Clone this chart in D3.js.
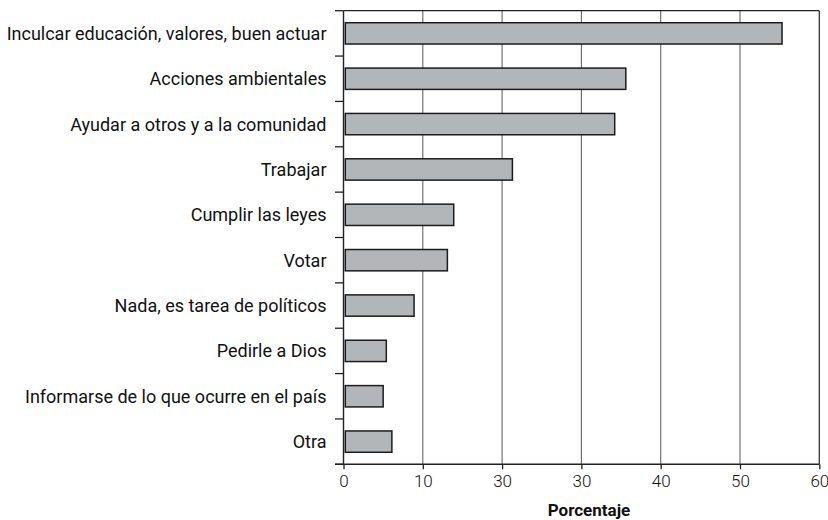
<!DOCTYPE html>
<html><head><meta charset="utf-8">
<script src="https://cdn.jsdelivr.net/npm/d3@7"></script>
<style>
html,body{margin:0;padding:0;background:#fff;}
svg{display:block;}
</style></head>
<body>
<svg id="chart" width="828" height="520"></svg>
<script>
const categories = [
  "Inculcar educación, valores, buen actuar",
  "Acciones ambientales",
  "Ayudar a otros y a la comunidad",
  "Trabajar",
  "Cumplir las leyes",
  "Votar",
  "Nada, es tarea de políticos",
  "Pedirle a Dios",
  "Informarse de lo que ocurre en el país",
  "Otra"
];
const values = [55.3, 35.6, 34.2, 21.3, 13.9, 13.1, 8.9, 5.4, 5.0, 6.1];
const tickValues = [0, 10, 20, 30, 40, 50, 60];
const tickLabels = ["0", "10", "30", "30", "40", "50", "60"];
const xTitle = "Porcentaje";

(function () {
const svg = d3.select("#chart");
const mLeft = 343.5, mRight = 819.3, mTop = 10.7, mBottom = 464.3;
const font = "Roboto, 'Noto Sans', sans-serif";

const x = d3.scaleLinear().domain([0, 60]).range([mLeft, mRight]);
const pad = 0.53;
const y = d3.scaleBand().domain(categories).range([mTop, mBottom])
  .paddingInner(pad).paddingOuter(pad / 2);
const step = y.step();

// gridlines
svg.append("g").selectAll("line").data(tickValues.filter(v => v > 0 && v < 60)).join("line")
  .attr("x1", d => x(d)).attr("x2", d => x(d))
  .attr("y1", mTop).attr("y2", mBottom)
  .attr("stroke", "#666").attr("stroke-width", 1.1);

// bars
svg.append("g").selectAll("rect").data(values).join("rect")
  .attr("x", x(0) + 1.8)
  .attr("y", (d, i) => y(categories[i]))
  .attr("width", d => x(d) - x(0) - 1.8)
  .attr("height", y.bandwidth())
  .attr("fill", "#b3b6b9")
  .attr("stroke", "#1c1c1c")
  .attr("stroke-width", 1.5);

// frame: top & right
svg.append("line").attr("x1", mLeft).attr("x2", mRight).attr("y1", mTop).attr("y2", mTop)
  .attr("stroke", "#222").attr("stroke-width", 1.3);
svg.append("line").attr("x1", mRight).attr("x2", mRight).attr("y1", mTop).attr("y2", mBottom)
  .attr("stroke", "#333").attr("stroke-width", 1.3);

// y axis: ticks at band boundaries
const yAxisG = svg.append("g");
yAxisG.append("line").attr("x1", mLeft).attr("x2", mLeft).attr("y1", mTop).attr("y2", mBottom)
  .attr("stroke", "#222").attr("stroke-width", 1.4);
const bounds = d3.range(categories.length + 1).map(i => mTop + i * step);
yAxisG.selectAll("line.tk").data(bounds).join("line").attr("class", "tk")
  .attr("x1", mLeft - 8.5).attr("x2", mLeft).attr("y1", d => d).attr("y2", d => d)
  .attr("stroke", "#222").attr("stroke-width", 1.3);
yAxisG.selectAll("text").data(categories).join("text")
  .attr("x", mLeft - 17)
  .attr("y", d => y(d) + y.bandwidth() / 2)
  .attr("dy", "0.36em")
  .attr("text-anchor", "end")
  .attr("font-family", font).attr("font-size", 18).attr("font-weight", 400)
  .attr("fill", "#111")
  .text(d => d);

// x axis
const xAxis = d3.axisBottom(x).tickValues(tickValues)
  .tickFormat((d, i) => tickLabels[i]).tickSize(5).tickPadding(6);
const xg = svg.append("g").attr("transform", `translate(0,${mBottom})`).call(xAxis);
xg.select(".domain").remove();
xg.append("line").attr("x1", mLeft - 8.5).attr("x2", mRight).attr("y1", 0).attr("y2", 0)
  .attr("stroke", "#222").attr("stroke-width", 1.4);
xg.selectAll(".tick line").attr("stroke", "#222").attr("stroke-width", 1.3);
xg.selectAll(".tick text").attr("font-family", font).attr("font-size", 17)
  .attr("font-weight", 300).attr("fill", "#111");

svg.append("text").attr("x", 589).attr("y", 516)
  .attr("text-anchor", "middle")
  .attr("font-family", font).attr("font-size", 17).attr("font-weight", 700)
  .attr("fill", "#111").text(xTitle);
})();
</script>
</body></html>
